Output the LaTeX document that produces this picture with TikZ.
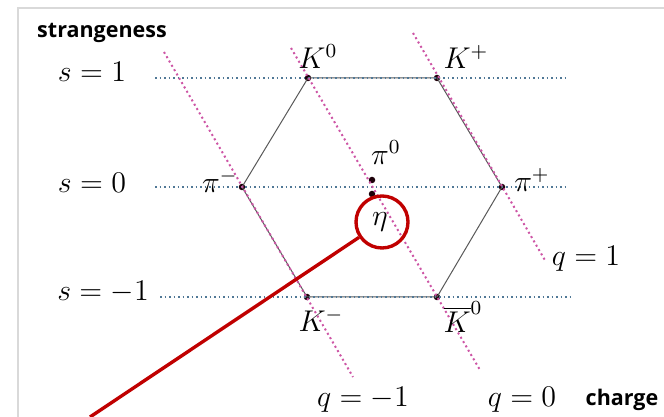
\documentclass[tikz,border=0pt]{standalone}
\usepackage{amsmath,amssymb}
\usepackage{fontspec}
\setsansfont{Open Sans}
\definecolor{sline}{RGB}{80,120,150}
\definecolor{qline}{RGB}{205,85,165}
\definecolor{ringred}{RGB}{192,0,0}

\begin{document}
\begin{tikzpicture}[x=0.4pt, y=-0.4pt, every node/.style={font=\fontsize{11.5}{13}\selectfont},
	dot/.style={circle, fill=black!85!purple, inner sep=0pt, minimum size=2.6pt},
	sdots/.style={sline, line width=0.7pt, dash pattern=on 0.7pt off 1.1pt},
	qdots/.style={qline, line width=0.8pt, dash pattern=on 0.8pt off 1.2pt},
	hexedge/.style={black!65, line width=0.4pt},
	axislabel/.style={font=\sffamily\bfseries\fontsize{8.6}{10}\selectfont}]
	\useasboundingbox (0,0) rectangle (664,417);
	\draw[gray!30, line width=0.5pt] (18,417) -- (18,8) -- (664,8);
	% particles
	\node[dot] (K0) at (308,78) {};
	\node[dot] (Kp) at (437,78) {};
	\node[dot] (pim) at (242,187) {};
	\node[dot] (pip) at (502,187) {};
	\node[dot] (Km) at (307,297) {};
	\node[dot] (Kb0) at (437,297) {};
	\node[dot] (pi0) at (372,180) {};
	\node[dot] (eta) at (372,194) {};
	\draw[hexedge] (K0.center) -- (Kp.center) -- (pip.center) -- (Kb0.center) -- (Km.center) -- (pim.center) -- cycle;
	% strangeness lines
	\node (s1) at (92,72) {$s=1$};
	\node (s0) at (92,183) {$s=0$};
	\node (sm1) at (103,292) {$s=-1$};
	\coordinate (s1w) at (155,78); \coordinate (s1e) at (568,78);
	\coordinate (s0w) at (155,187); \coordinate (s0e) at (568,187);
	\coordinate (sm1w) at (160,297); \coordinate (sm1e) at (572,297);
	\draw[sdots] (s1w) -- (s1e);
	\draw[sdots] (s0w) -- (s0e);
	\draw[sdots] (sm1w) -- (sm1e);
	% charge lines
	\coordinate (qm1n) at (164,52); \coordinate (qm1s) at (353,377);
	\coordinate (q0n) at (291,48); \coordinate (q0s) at (480,370);
	\coordinate (q1n) at (413,33); \coordinate (q1s) at (546,262);
	\draw[qdots] (qm1n) -- (qm1s);
	\draw[qdots] (q0n) -- (q0s);
	\draw[qdots] (q1n) -- (q1s);
	\node (q1) at (586,259) {$q=1$};
	\node (qm1) at (363,400) {$q=-1$};
	\node (q0) at (522,400) {$q=0$};
	% names
	\node at (318,57) {$K^0$};
	\node at (466,57) {$K^+$};
	\node at (220,181) {$\pi^-$};
	\node at (532,180) {$\pi^+$};
	\node at (386,153) {$\pi^0$};
	\node at (321,320) {$K^-$};
	\node at (463,317) {$\overline{K}^0$};
	\node at (380,222) {$\eta$};
	\node[axislabel] (strange) at (102,33) {strangeness};
	\node[axislabel] (charge) at (622,400) {charge};
	% highlight
	\node[draw=ringred, line width=1.35pt, circle, minimum size=20.8pt, inner sep=0pt] (ring) at (382,222) {};
	\coordinate (tail) at (90,417);
	\draw[ringred, line width=1.35pt] (ring) -- (tail);
\end{tikzpicture}
\end{document}
